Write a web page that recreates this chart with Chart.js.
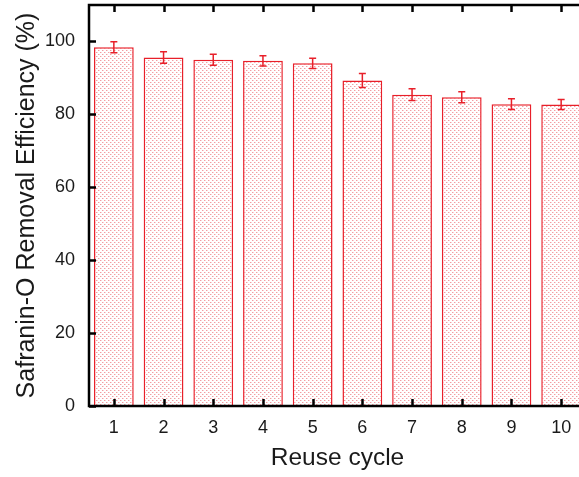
<!DOCTYPE html>
<html>
<head>
  <meta charset="utf-8"/>
  <script src="https://cdn.jsdelivr.net/npm/chart.js@4/dist/chart.umd.min.js"></script>
  <style>
    html, body { margin: 0; padding: 0; background: #ffffff; overflow: hidden; }
    #wrap { width: 600px; height: 477px; }
  </style>
</head>
<body>
  <div id="wrap"><canvas id="c" width="600" height="477"></canvas></div>
  <script>
    // reuse cycles and removal efficiency (%)
    var cycles = ["1", "2", "3", "4", "5", "6", "7", "8", "9", "10"];
    var efficiency = [98.4, 95.6, 95.0, 94.7, 94.0, 89.3, 85.4, 84.7, 82.8, 82.7];
    var errors = [1.5, 1.6, 1.5, 1.4, 1.4, 1.9, 1.6, 1.5, 1.5, 1.4];
    var yTicks = [0, 20, 40, 60, 80, 100];

    var red = "#e8202a";

    // stippled fill like the original hatch
    function dotPattern() {
      var p = document.createElement("canvas");
      p.width = 4; p.height = 4;
      var g = p.getContext("2d");
      g.fillStyle = "#ffffff";
      g.fillRect(0, 0, 4, 4);
      g.fillStyle = "rgba(235,90,100,0.6)";
      g.fillRect(0, 0, 1, 1);
      g.fillRect(2, 2, 1, 1);
      g.fillStyle = "rgba(240,150,155,0.4)";
      g.fillRect(1, 0, 1, 1);
      g.fillRect(3, 2, 1, 1);
      return g.createPattern(p, "repeat");
    }

    var errorBars = {
      id: "errorBars",
      afterDatasetsDraw: function(chart) {
        var ctx = chart.ctx, x = chart.scales.x, y = chart.scales.y;
        ctx.save();
        ctx.strokeStyle = red;
        ctx.lineWidth = 1.5;
        for (var i = 0; i < efficiency.length; i++) {
          var px = x.getPixelForValue(i);
          var hi = y.getPixelForValue(efficiency[i] + errors[i]);
          var lo = y.getPixelForValue(efficiency[i] - errors[i]);
          ctx.beginPath();
          ctx.moveTo(px, hi); ctx.lineTo(px, lo);
          ctx.moveTo(px - 3.5, hi); ctx.lineTo(px + 3.5, hi);
          ctx.moveTo(px - 3.5, lo); ctx.lineTo(px + 3.5, lo);
          ctx.stroke();
        }
        ctx.restore();
      }
    };

    // box frame with inward ticks on all four sides
    var frame = {
      id: "frame",
      afterDraw: function(chart) {
        var ctx = chart.ctx, a = chart.chartArea;
        var x = chart.scales.x, y = chart.scales.y;
        ctx.save();
        ctx.strokeStyle = "#000";
        ctx.lineWidth = 2.5;
        ctx.strokeRect(a.left, a.top, a.right - a.left, a.bottom - a.top);
        ctx.beginPath();
        for (var i = 0; i < cycles.length; i++) {
          var px = Math.round(x.getPixelForValue(i)) + 0.5;
          ctx.moveTo(px, a.bottom); ctx.lineTo(px, a.bottom - 7);
          ctx.moveTo(px, a.top); ctx.lineTo(px, a.top + 7);
        }
        for (var j = 0; j < yTicks.length; j++) {
          var py = Math.round(y.getPixelForValue(yTicks[j])) + 0.5;
          ctx.moveTo(a.left, py); ctx.lineTo(a.left + 7, py);
          ctx.moveTo(a.right, py); ctx.lineTo(a.right - 7, py);
        }
        ctx.stroke();
        ctx.restore();
      }
    };

    var font = "'Liberation Sans', Arial, sans-serif";

    new Chart(document.getElementById("c"), {
      type: "bar",
      data: {
        labels: cycles,
        datasets: [{
          data: efficiency,
          backgroundColor: dotPattern(),
          borderColor: red,
          borderWidth: { top: 1.5, left: 1.5, right: 1.5, bottom: 0 },
          borderSkipped: false,
          categoryPercentage: 1.0,
          barPercentage: 0.8
        }]
      },
      options: {
        responsive: false,
        animation: false,
        layout: { padding: { top: 5, right: 14, left: 0, bottom: 0 } },
        plugins: { legend: { display: false }, tooltip: { enabled: false } },
        scales: {
          x: {
            grid: { display: false, drawTicks: false },
            border: { display: false },
            ticks: { color: "#1a1a1a", font: { family: font, size: 18 }, padding: 11 },
            title: { display: true, text: "Reuse cycle", color: "#1a1a1a",
                     font: { family: font, size: 24.5 }, padding: { top: 8 } },
            afterFit: function(s) { s.height = 71; s.paddingLeft = 0; s.paddingRight = 0; }
          },
          y: {
            min: 0, max: 110,
            grid: { display: false, drawTicks: false },
            border: { display: false },
            afterBuildTicks: function(s) {
              s.ticks = yTicks.map(function(v) { return { value: v }; });
            },
            ticks: { color: "#1a1a1a", font: { family: font, size: 18 }, padding: 14 },
            title: { display: true, text: "Safranin-O Removal Efficiency (%)", color: "#1a1a1a",
                     font: { family: font, size: 25 }, padding: { top: 12, bottom: 0 } },
            afterFit: function(s) { s.width = 89; s.paddingTop = 0; s.paddingBottom = 0; }
          }
        }
      },
      plugins: [errorBars, frame]
    });
  </script>
</body>
</html>
